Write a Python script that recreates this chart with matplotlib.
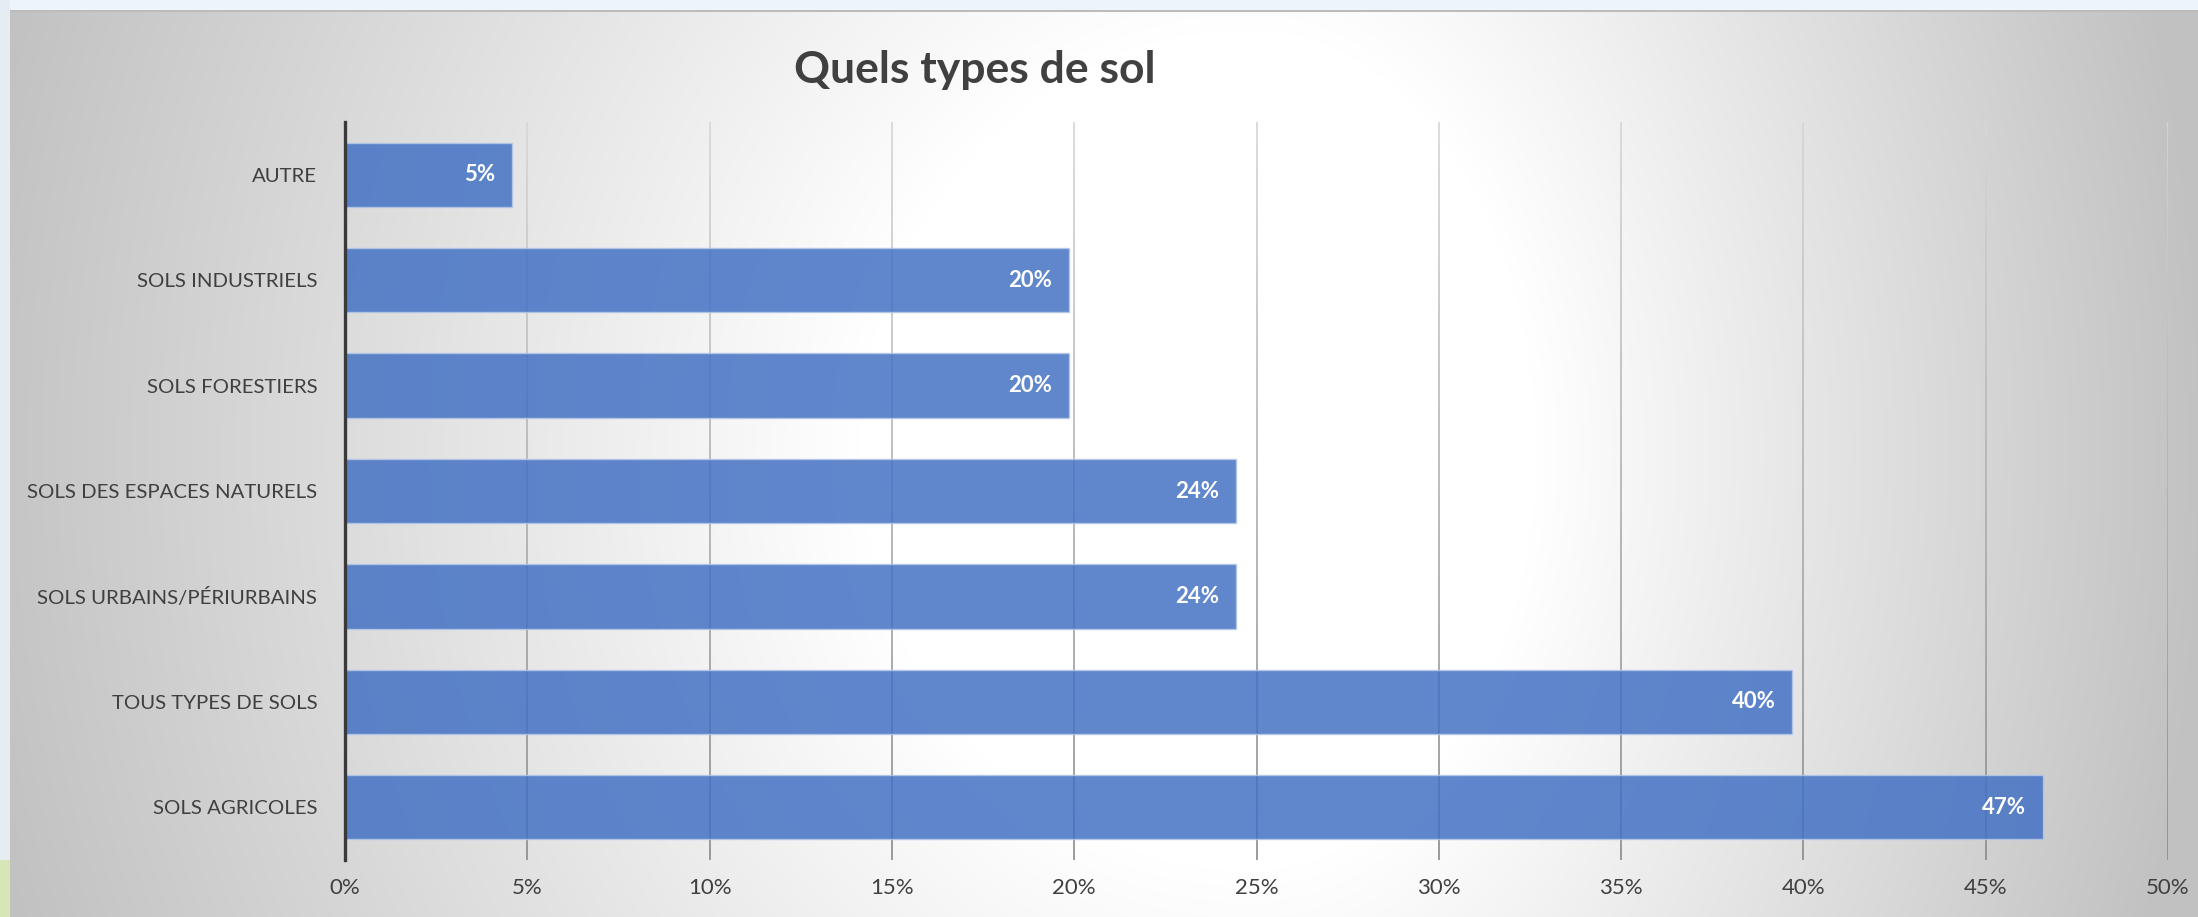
import numpy as np
import matplotlib
matplotlib.use("Agg")
import matplotlib.pyplot as plt
from matplotlib.ticker import FuncFormatter
from matplotlib.collections import LineCollection

# ---- data ----
categories = ["SOLS AGRICOLES", "TOUS TYPES DE SOLS", "SOLS URBAINS/PÉRIURBAINS",
              "SOLS DES ESPACES NATURELS", "SOLS FORESTIERS", "SOLS INDUSTRIELS", "AUTRE"]
values = [46.56, 39.69, 24.43, 24.43, 19.85, 19.85, 4.58]
value_labels = ["47%", "40%", "24%", "24%", "20%", "20%", "5%"]
x_ticks = [0, 5, 10, 15, 20, 25, 30, 35, 40, 45, 50]
title = "Quels types de sol"

W, H = 2198, 917
DPI = 100
plt.rcParams['font.family'] = ['Lato', 'DejaVu Sans']

fig = plt.figure(figsize=(W / DPI, H / DPI), dpi=DPI)
fig.patch.set_facecolor('#EEF5FC')

# ---- background gradient (chart area) ----
bg = fig.add_axes([0, 0, 1, 1], zorder=-10)
bg.set_axis_off()
yy, xx = np.mgrid[0:H, 0:W].astype(float)
cx, cy = 1250.0, 450.0
rx = np.where(xx < cx, 1300.0, 950.0)
ry = 1400.0
t = np.sqrt(((xx - cx) / rx) ** 2 + ((yy - cy) / ry) ** 2)
t = np.clip((t - 0.3) / (1.0 - 0.3), 0, 1)
g = 1.0 - t * (1.0 - 0.76)
img = np.dstack([g, g, g])
# outer strips
img[:10, :, :] = np.array([0.93, 0.96, 0.99])
img[:, :10, :] = np.array([0.90, 0.93, 0.95])
img[860:, :10, :] = np.array([0.85, 0.90, 0.72])
img[10:12, 10:, :] = 0.74
bg.imshow(img, extent=[0, W, H, 0], aspect='auto', interpolation='bilinear')
bg.set_xlim(0, W)
bg.set_ylim(H, 0)

# ---- main axes ----
left, right = 345 / W, 2168 / W
bottom, top = 1 - 860 / H, 1 - 122 / H
ax = fig.add_axes([left, bottom, right - left, top - bottom])
ax.set_facecolor('none')

ax.set_xlim(0, 50)
ypos = np.arange(len(categories))
ax.set_ylim(-0.5, len(categories) - 0.5)

# gridlines with a vertical shade (lighter at top, darker at bottom)
nseg = 60
ys = np.linspace(0, 1, nseg + 1)
segs, cols = [], []
for xt in x_ticks[1:]:
    for i in range(nseg):
        segs.append([(xt, ys[i]), (xt, ys[i + 1])])
        v = 0.54 + (0.84 - 0.54) * (ys[i] + ys[i + 1]) / 2
        cols.append((v, v, v))
lc = LineCollection(segs, colors=cols, linewidths=1.2,
                    transform=ax.get_xaxis_transform(), zorder=1)
ax.add_collection(lc)

bars = ax.barh(ypos, values, height=0.61, color='#4472C4', alpha=0.85,
               edgecolor='#B4C7E7', linewidth=1.0, zorder=3)

ax.set_xticks(x_ticks)
ax.xaxis.set_major_formatter(FuncFormatter(lambda v, p: f"{int(v)}%"))
ax.set_yticks(ypos)
ax.set_yticklabels(categories)

ax.tick_params(axis='x', length=0, pad=13, labelsize=16, labelcolor='#404040')
ax.tick_params(axis='y', length=0, pad=20, labelsize=14.7, labelcolor='#404040')

for s in ['top', 'right', 'bottom']:
    ax.spines[s].set_visible(False)
ax.spines['left'].set_color('#3a3a3a')
ax.spines['left'].set_linewidth(2.4)
ax.spines['left'].set_zorder(5)

for rect, lab in zip(bars, value_labels):
    ax.annotate(lab, xy=(rect.get_width(), rect.get_y() + rect.get_height() / 2),
                xytext=(-12, 0), textcoords='offset points', ha='right', va='center',
                color='white', fontsize=16, fontweight='bold', zorder=6)

fig.text(975 / W, 1 - 70 / H, title, ha='center', va='center',
         fontsize=32, fontweight='bold', color='#404040')

fig.savefig('out.png', dpi=DPI)
